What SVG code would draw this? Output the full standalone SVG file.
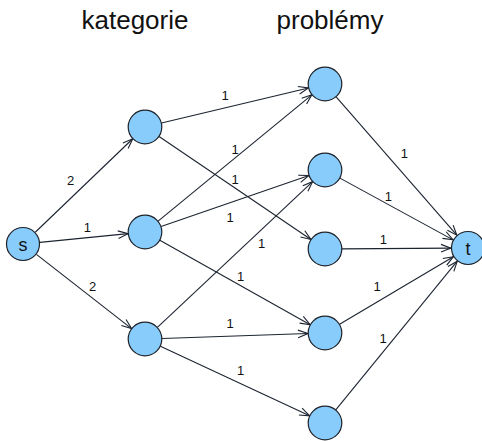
<svg xmlns="http://www.w3.org/2000/svg" width="482" height="441" viewBox="0 0 482 441">
<style>
.n{fill:#88ccfc;stroke:#1e2228;stroke-width:1.2}
.e{stroke:#1c2430;stroke-width:1.1;fill:none;marker-end:url(#ah)}
.l{font-family:"Liberation Sans",Arial,sans-serif;font-size:13px;fill:#111;text-anchor:middle}
.nt{font-family:"Liberation Sans",Arial,sans-serif;font-size:18px;fill:#111;text-anchor:middle}
.h{font-family:"Liberation Sans",Arial,sans-serif;font-size:26px;fill:#111;text-anchor:middle}
</style>
<defs>
<marker id="ah" markerWidth="12" markerHeight="10" refX="11" refY="5" orient="auto" markerUnits="userSpaceOnUse">
<path d="M1,1.2 L11,5 L1,8.8" fill="none" stroke="#1c2430" stroke-width="1.1"/>
</marker>
</defs>
<text class="h" x="135" y="28.5">kategorie</text>
<text class="h" x="330" y="28.5">problémy</text>
<g id="edges">
<line class="e" x1="35.27" y1="232.23" x2="132.73" y2="138.77"/>
<line class="e" x1="39.92" y1="242.34" x2="128.08" y2="233.66"/>
<line class="e" x1="36.41" y1="254.44" x2="131.59" y2="328.56"/>
<line class="e" x1="161.53" y1="123.05" x2="308.47" y2="87.95"/>
<line class="e" x1="159.07" y1="136.54" x2="310.93" y2="239.46"/>
<line class="e" x1="158.13" y1="221.2" x2="311.87" y2="94.8"/>
<line class="e" x1="161.07" y1="226.46" x2="308.93" y2="175.54"/>
<line class="e" x1="159.83" y1="240.32" x2="310.17" y2="324.68"/>
<line class="e" x1="157.39" y1="327.36" x2="312.61" y2="181.64"/>
<line class="e" x1="161.99" y1="338.43" x2="308.01" y2="333.57"/>
<line class="e" x1="160.41" y1="346.19" x2="309.59" y2="415.81"/>
<line class="e" x1="336.17" y1="96.81" x2="456.83" y2="235.19"/>
<line class="e" x1="339.92" y1="178.14" x2="453.08" y2="239.86"/>
<line class="e" x1="342" y1="248.88" x2="451" y2="248.12"/>
<line class="e" x1="339.61" y1="324.31" x2="453.39" y2="256.69"/>
<line class="e" x1="335.76" y1="409.84" x2="457.24" y2="261.16"/>
<text class="l" x="70.7" y="185">2</text>
<text class="l" x="87.3" y="232">1</text>
<text class="l" x="92.7" y="291">2</text>
<text class="l" x="225" y="100">1</text>
<text class="l" x="235" y="154">1</text>
<text class="l" x="235" y="184">1</text>
<text class="l" x="230" y="221.5">1</text>
<text class="l" x="261.7" y="248">1</text>
<text class="l" x="240.7" y="281">1</text>
<text class="l" x="230" y="327.5">1</text>
<text class="l" x="240.7" y="375">1</text>
<text class="l" x="404.3" y="158">1</text>
<text class="l" x="388.3" y="201">1</text>
<text class="l" x="383.3" y="244">1</text>
<text class="l" x="377" y="291">1</text>
<text class="l" x="383" y="343">1</text>
</g>
<g id="s"><circle class="n" cx="23" cy="244" r="16.5"/><text class="nt" x="23" y="250.5">s</text></g>
<g id="c1"><circle class="n" cx="145" cy="127" r="16.8"/></g>
<g id="c2"><circle class="n" cx="145" cy="232" r="16.8"/></g>
<g id="c3"><circle class="n" cx="145" cy="339" r="16.8"/></g>
<g id="p1"><circle class="n" cx="325" cy="84" r="16.8"/></g>
<g id="p2"><circle class="n" cx="325" cy="170" r="16.8"/></g>
<g id="p3"><circle class="n" cx="325" cy="249" r="16.8"/></g>
<g id="p4"><circle class="n" cx="325" cy="333" r="16.8"/></g>
<g id="p5"><circle class="n" cx="325" cy="423" r="16.8"/></g>
<g id="t"><circle class="n" cx="468" cy="248" r="16.5"/><text class="nt" x="468" y="254.5">t</text></g>
</svg>
